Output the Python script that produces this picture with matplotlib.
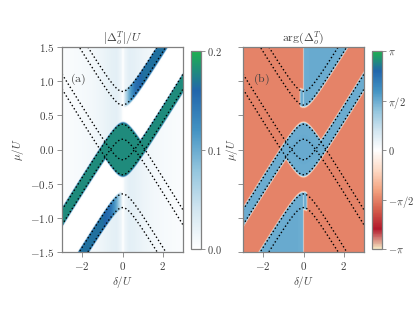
import numpy as np
import matplotlib
matplotlib.use("Agg")
import matplotlib.pyplot as plt
from matplotlib.colors import LinearSegmentedColormap

plt.rcParams["mathtext.fontset"] = "cm"
plt.rcParams["font.family"] = "serif"
plt.rcParams["font.size"] = 8

# ---------------- data ----------------
delta_lim = [-3.0, 3.0]
mu_lim = [-1.5, 1.5]
# eight transition curves (dotted): vertex at delta=0, opening +1 up / -1 down
vertex_mu = [0.85, 0.65, -0.15, -0.37, -0.85, -0.65, 0.15, 0.37]
opening = [1, 1, 1, 1, -1, -1, -1, -1]
asym_slope = 0.48          # asymptotic |d mu / d delta|
rounding = 0.20            # rounding of the vertices
band_margin = 0.03
bulge_width = 0.17
# background |Delta| versus |delta|
bg_delta = [0.0, 0.08, 0.3, 0.6, 1.0, 1.5, 2.0, 2.5, 3.0]
bg_value = [0.0, 0.014, 0.024, 0.022, 0.016, 0.011, 0.008, 0.006, 0.004]
# fade of the outer strips near delta = 0
fade_delta = [0.0, 0.1, 0.3, 0.6, 1.0]
fade_factor = [0.0, 0.25, 0.6, 0.9, 1.0]
strip_value = 0.165
band_value = 0.18
phase_blue = np.pi / 2
phase_red = -np.pi / 2

xticks = [-2, 0, 2]
yticks = [-1.5, -1.0, -0.5, 0.0, 0.5, 1.0, 1.5]
cb_a_ticks = [0.0, 0.1, 0.2]
cb_b_ticks = [-np.pi, -np.pi / 2, 0, np.pi / 2, np.pi]
cb_b_labels = [r"$-\pi$", r"$-\pi/2$", r"$0$", r"$\pi/2$", r"$\pi$"]

cmap_b = LinearSegmentedColormap.from_list("argmap", [
    "#f6e8c3", "#b2182b", "#d6604d", "#f4a582", "#fddbc7", "#ffffff",
    "#d1e5f0", "#92c5de", "#4393c3", "#2166ac", "#1eb04f"])
cmap_a = LinearSegmentedColormap.from_list("absmap", [
    "#ffffff", "#d1e5f0", "#92c5de", "#4393c3", "#2166ac", "#1eb04f"])

# ---------------- fields ----------------
d = np.linspace(delta_lim[0], delta_lim[1], 721)
m = np.linspace(mu_lim[0], mu_lim[1], 721)
D, M = np.meshgrid(d, m)


def curve(x, i):
    return vertex_mu[i] + opening[i] * (np.sqrt((asym_slope * x) ** 2 + rounding ** 2) - rounding)


def step(x, w=0.010):
    return 0.5 * (1 + np.tanh(x / w))


A_out, A_in, Mu_in, Mu_out, D_out, D_in, Md_in, Md_out = [curve(D, i) for i in range(8)]
e = band_margin
pos = step(D, 0.015)
neg = step(-D, 0.015)

upper_strip = pos * step(M - (A_in - e)) * step((A_out + e) - M)
lower_strip = neg * step(M - (D_out - e)) * step((D_in + e) - M)
diamond = step(M - (Mu_out - e)) * step((Md_out + e) - M)
left_band = neg * step(M - (Md_in - e)) * step((Md_out + e) - M)
right_band = pos * step(M - (Mu_out - e)) * step((Mu_in + e) - M)
main = np.maximum.reduce([diamond, left_band, right_band])

gap_up = pos * step(M - Mu_in, 0.03) * step(A_in - M, 0.03)
gap_dn = neg * step(Md_in - M, 0.03) * step(M - D_in, 0.03)
bg = np.interp(np.abs(D), bg_delta, bg_value) * (1 - np.maximum(gap_up, gap_dn))
fade = np.interp(np.abs(D), fade_delta, fade_factor)
mag = np.maximum(bg, strip_value * fade * np.maximum(upper_strip, lower_strip))
mag = np.maximum(mag, band_value * main)

bulge_up = step(D + bulge_width, 0.015) * neg * step(M - (A_in - e)) * step((A_out + e) - M)
bulge_dn = step(bulge_width - D, 0.015) * pos * step((D_in + e) - M) * step(M - (D_out - e))
upper_region = np.maximum(pos * step(M - (A_in - e)), bulge_up)
lower_region = np.maximum(neg * step((D_in + e) - M), bulge_dn)
blue = np.maximum.reduce([upper_region, lower_region, main])
phase = phase_red + (phase_blue - phase_red) * blue

# ---------------- figure ----------------
W, H = 415, 312
fig = plt.figure(figsize=(W / 100, H / 100), dpi=100)


def fr(x0, x1, y0, y1):
    return [x0 / W, 1 - y1 / H, (x1 - x0) / W, (y1 - y0) / H]


ax_a = fig.add_axes(fr(62, 183, 47, 252))
cax_a = fig.add_axes(fr(191, 201, 51, 249))
ax_b = fig.add_axes(fr(243, 364, 47, 252))
cax_b = fig.add_axes(fr(372, 382, 51, 249))

ext = [delta_lim[0], delta_lim[1], mu_lim[0], mu_lim[1]]
im_a = ax_a.imshow(mag, extent=ext, origin="lower", aspect="auto", cmap=cmap_a,
                   vmin=0, vmax=0.2, interpolation="bilinear")
im_b = ax_b.imshow(phase, extent=ext, origin="lower", aspect="auto", cmap=cmap_b,
                   vmin=-np.pi, vmax=np.pi, interpolation="bilinear")

for ax in (ax_a, ax_b):
    for i in range(8):
        ax.plot(d, curve(d, i), color="black", linestyle=(0, (1, 1.7)), lw=1.0)
    ax.set_xlim(delta_lim)
    ax.set_ylim(mu_lim)
    ax.set_xticks(xticks)
    ax.set_xticklabels([r"$%d$" % t for t in xticks])
    ax.set_yticks(yticks)
    ax.set_xlabel(r"$\delta/U$", color="0.25", labelpad=2)
    ax.set_ylabel(r"$\mu/U$", color="0.25", labelpad=3)
    ax.tick_params(direction="out", length=3.5, width=0.6, color="0.5",
                   labelcolor="0.25", labelsize=8, pad=2)
    for sp in ax.spines.values():
        sp.set_color("0.5")
        sp.set_linewidth(0.9)

ax_a.set_yticklabels([r"$%.1f$" % t for t in yticks])
ax_b.tick_params(axis="y", labelleft=False)
ax_b.yaxis.set_label_coords(-0.025, 0.5)
ax_a.set_title(r"$|\Delta_o^T|/U$", fontsize=8.5, color="0.25", pad=3)
ax_b.set_title(r"$\arg(\Delta_o^T)$", fontsize=8.5, color="0.25", pad=3)
ax_a.text(-2.2, 1.03, r"$\mathrm{(a)}$", ha="center", va="center", fontsize=8.5, color="0.25")
ax_b.text(-2.1, 1.03, r"$\mathrm{(b)}$", ha="center", va="center", fontsize=8.5, color="0.25")

cb_a = fig.colorbar(im_a, cax=cax_a)
cb_a.set_ticks(cb_a_ticks)
cb_a.set_ticklabels([r"$%.1f$" % t for t in cb_a_ticks])
cb_b = fig.colorbar(im_b, cax=cax_b)
cb_b.set_ticks(cb_b_ticks)
cb_b.set_ticklabels(cb_b_labels)
for cb in (cb_a, cb_b):
    cb.outline.set_edgecolor("0.5")
    cb.outline.set_linewidth(0.9)
    cb.ax.tick_params(direction="out", length=3.0, width=0.6, color="0.5",
                      labelcolor="0.25", labelsize=7.5, pad=1.5)

fig.savefig("out.png", dpi=100)
